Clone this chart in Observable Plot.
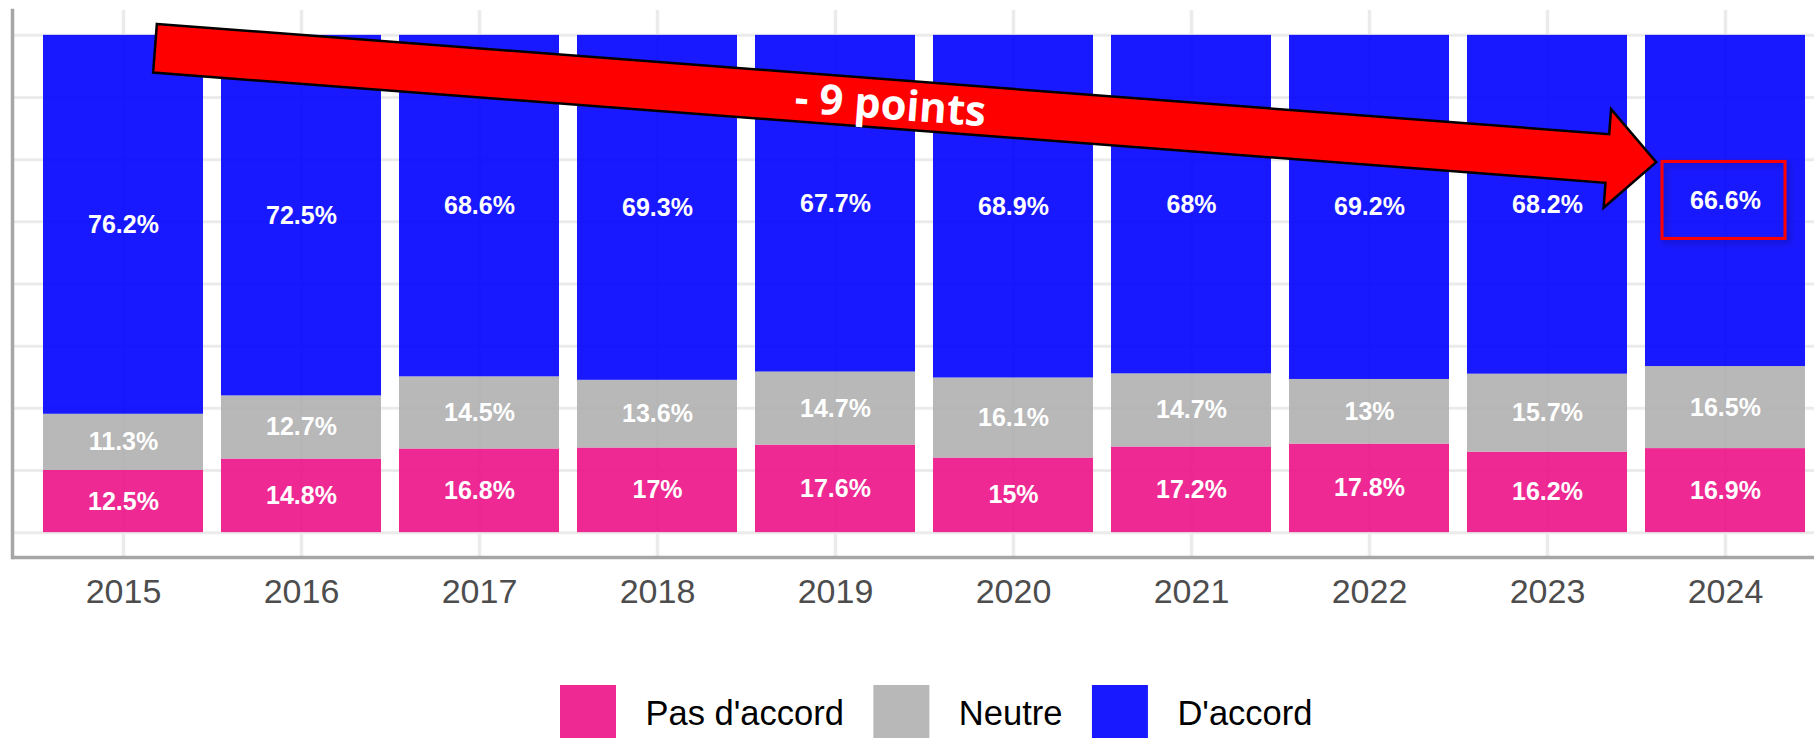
<!DOCTYPE html>
<html><head><meta charset="utf-8">
<script src="https://cdn.jsdelivr.net/npm/d3@7"></script>
<script src="https://cdn.jsdelivr.net/npm/@observablehq/plot@0.6"></script>
<style>
html,body{margin:0;padding:0;background:#fff;overflow:hidden;}
#wrap{position:relative;width:1814px;height:738px;overflow:hidden;background:#fff;}
#chart svg{display:block;overflow:hidden;}
#legend{position:absolute;left:0;top:650px;}
</style></head>
<body><div id="wrap"><div id="chart"></div><svg id="legend" width="1814" height="88"></svg></div>
<script>
const years = ["2015","2016","2017","2018","2019","2020","2021","2022","2023","2024"];
const categories = ["Pas d'accord","Neutre","D'accord"];
const colors = ["#EC1287","#B0B0B0","#0000FF"];
const pasDaccord = [12.5,14.8,16.8,17,17.6,15,17.2,17.8,16.2,16.9];
const neutre = [11.3,12.7,14.5,13.6,14.7,16.1,14.7,13,15.7,16.5];
const daccord = [76.2,72.5,68.6,69.3,67.7,68.9,68,69.2,68.2,66.6];
const gridValues = [0,0.125,0.25,0.375,0.5,0.625,0.75,0.875,1];
const arrowLabel = "- 9 points";
const arrowFrom = {year:"2015", pos:0.7, value:0.973};
const arrowTo = {year:"2024", pos:0.07, value:0.744};
const highlightYear = "2024";

const series = [pasDaccord, neutre, daccord];
const rows = [];
categories.forEach((c, i) => years.forEach((y, j) => rows.push({year:y, cat:c, value:series[i][j]})));

const font = "'Liberation Sans', Arial, Helvetica, sans-serif";

const chart = Plot.plot({
  width: 1814, height: 650,
  marginLeft: 12, marginRight: 0, marginTop: 10, marginBottom: 93,
  style: {fontFamily: font, background: "white"},
  x: {domain: years, range: [12.8, 1835.5], paddingInner: 0.1, paddingOuter: 0.15, axis: null},
  y: {domain: [-0.05, 1.05], axis: null},
  color: {domain: categories, range: colors},
  marks: [
    Plot.ruleY(gridValues, {stroke: "#ebebeb", strokeWidth: 3}),
    Plot.ruleX(years, {stroke: "#ebebeb", strokeWidth: 3.5}),
    Plot.barY(rows, Plot.stackY({x: "year", y: "value", z: "cat", fill: "cat", offset: "normalize", fillOpacity: 0.9})),
    Plot.text(rows, Plot.stackY({x: "year", y: "value", z: "cat", offset: "normalize",
      text: d => d.value + "%", fill: "white", fontWeight: "bold", fontSize: 25})),
    Plot.frame({anchor: "left", stroke: "#a6a6a6", strokeWidth: 3.5}),
    Plot.ruleY([-0.05], {stroke: "#a6a6a6", strokeWidth: 3.5}),
    Plot.axisX({tickSize: 0, tickPadding: 21, fontSize: 34, fill: "#4d4d4d", label: null})
  ]
});
document.getElementById("chart").appendChild(chart);

// annotations positioned through the chart's scales
const sx = chart.scale("x"), sy = chart.scale("y");
const bw = sx.bandwidth;
const svg = d3.select(chart);
const defs = svg.append("defs");
const f = defs.append("filter").attr("id","shadow").attr("x","-20%").attr("y","-20%").attr("width","150%").attr("height","150%");
f.append("feDropShadow").attr("dx",3).attr("dy",3).attr("stdDeviation",3).attr("flood-color","#000").attr("flood-opacity",0.3);

// highlight box around last D'accord label
const hi = years.indexOf(highlightYear);
const tot = pasDaccord[hi] + neutre[hi] + daccord[hi];
const mid = ((pasDaccord[hi] + neutre[hi]) / tot + 1) / 2;
const bx = sx.apply(highlightYear) + bw / 2, by = sy.apply(mid);
svg.append("rect").attr("x", bx - 63).attr("y", by - 39).attr("width", 123).attr("height", 77)
  .attr("fill", "none").attr("stroke", "#ff0000").attr("stroke-width", 3).attr("filter", "url(#shadow)");

// block arrow
const x0 = sx.apply(arrowFrom.year) + bw * arrowFrom.pos, y0 = sy.apply(arrowFrom.value);
const x1 = sx.apply(arrowTo.year) + bw * arrowTo.pos, y1 = sy.apply(arrowTo.value);
const L = Math.hypot(x1 - x0, y1 - y0);
const ang = Math.atan2(y1 - y0, x1 - x0) * 180 / Math.PI;
const hw = 24.4, hh = 49.5, hl = 49;
const pts = [[0,-hw],[L-hl,-hw],[L-hl,-hh],[L,0],[L-hl,hh],[L-hl,hw],[0,hw]];
const g = svg.append("g").attr("transform", `translate(${x0},${y0}) rotate(${ang})`);
g.append("polygon").attr("points", pts.map(p => p.join(",")).join(" "))
  .attr("fill", "#ff0000").attr("stroke", "#000").attr("stroke-width", 2.5).attr("stroke-linejoin", "miter");
g.append("text").attr("x", L * 0.49).attr("y", 0).attr("dy", "0.36em").attr("text-anchor", "middle")
  .attr("fill", "white").attr("font-family", "'Open Sans', sans-serif").attr("font-weight", "bold")
  .attr("font-size", 42).text(arrowLabel);

// legend
const lg = d3.select("#legend");
let lx = 560;
categories.forEach((c, i) => {
  lg.append("rect").attr("x", lx).attr("y", 35).attr("width", 56).attr("height", 60)
    .attr("fill", colors[i]).attr("fill-opacity", 0.9);
  lx += 56 + 29.5;
  const t = lg.append("text").attr("x", lx).attr("y", 75)
    .attr("font-family", font).attr("font-size", 34.5).attr("fill", "#000").text(c);
  lx += t.node().getComputedTextLength() + 29.5;
});
</script></body></html>
